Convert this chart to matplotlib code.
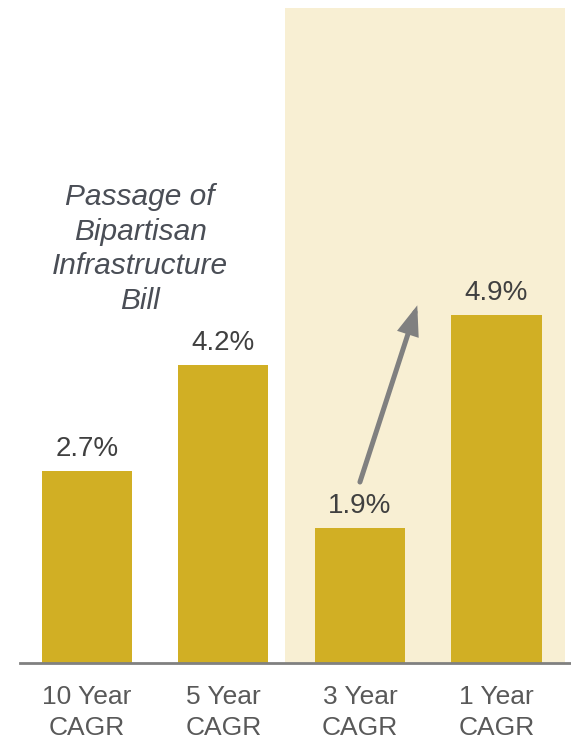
import matplotlib.pyplot as plt
from matplotlib.patches import Rectangle

plt.rcParams['font.family'] = ['Liberation Sans', 'DejaVu Sans']

periods = ['10 Year\nCAGR', '5 Year\nCAGR', '3 Year\nCAGR', '1 Year\nCAGR']
growth = [2.7, 4.2, 1.9, 4.9]
value_labels = ['2.7%', '4.2%', '1.9%', '4.9%']
note = 'Passage of\nBipartisan\nInfrastructure\nBill'

bar_color = '#D1AF24'
shade_color = '#F8EFD3'

fig = plt.figure(figsize=(5.71, 7.44), dpi=100)
# axes spans the baseline: px 20..571 horizontally, 8..663 vertically
ax = fig.add_axes([20 / 571, (744 - 663) / 744, 551 / 571, 655 / 744])
ax.set_xlim(-0.49, 3.546)
ax.set_ylim(0, 9.23)

# highlighted recent period
ax.add_patch(Rectangle((1.45, 0), 2.05, 9.23, color=shade_color, zorder=0, lw=0))

xs = list(range(len(growth)))
ax.bar(xs, growth, width=0.66, color=bar_color, zorder=2)

for x, v, lbl in zip(xs, growth, value_labels):
    ax.annotate(lbl, (x, v), xytext=(0, 11), textcoords='offset points',
                ha='center', va='baseline', fontsize=20, color='#404040')

# arrow from the 3 year bar up toward the 1 year bar
ax.annotate('', xy=(2.42, 5.04), xytext=(2.0, 2.55),
            arrowprops=dict(arrowstyle='-|>,head_length=0.75,head_width=0.28',
                            lw=3.6, color='#808080', mutation_scale=20,
                            shrinkA=0, shrinkB=0, joinstyle='miter'), zorder=3)

ax.text(0.39, 6.76, note, ha='center', va='top', style='italic',
        fontsize=21.5, color='#4A4E56', linespacing=1.3)

ax.set_xticks(xs)
ax.set_xticklabels(periods, fontsize=19, color='#595959', linespacing=1.38)
ax.tick_params(axis='x', length=0, pad=16)
ax.set_yticks([])
for side in ['top', 'right', 'left']:
    ax.spines[side].set_visible(False)
ax.spines['bottom'].set_color('#808080')
ax.spines['bottom'].set_linewidth(2)
ax.patch.set_alpha(0)

fig.savefig('out.png', dpi=100)
